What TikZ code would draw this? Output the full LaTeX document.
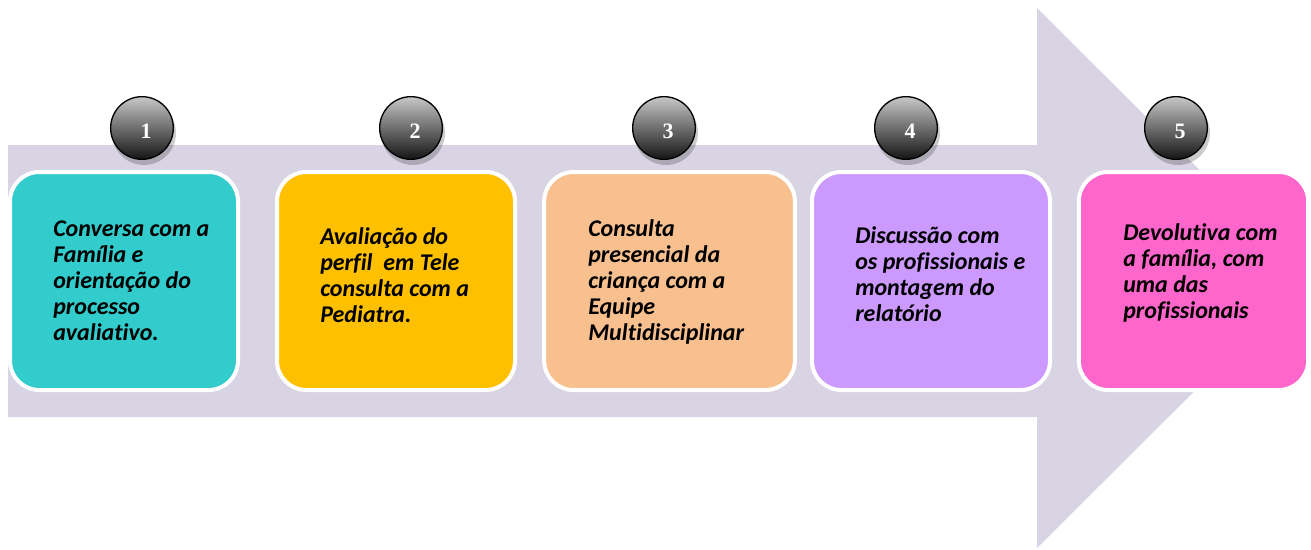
\documentclass[tikz,border=0pt]{standalone}
\usepackage{fontspec}
\setmainfont[Ligatures=CommonOff]{Carlito}
\newfontfamily\numfont{Liberation Serif}
\definecolor{arrowc}{HTML}{D8D4E3}
\definecolor{c1}{HTML}{33CCCC}
\definecolor{c2}{HTML}{FFC000}
\definecolor{c3}{HTML}{F8C08F}
\definecolor{c4}{HTML}{CC99FF}
\definecolor{c5}{HTML}{FF66CC}
\begin{document}
\begin{tikzpicture}[x=0.75pt,y=-0.75pt,
  stepbox/.style={rectangle, rounded corners=22pt, draw=white, line width=3pt,
    minimum height=163.5pt, inner sep=0pt},
  steptext/.style={anchor=west, align=left, inner sep=0pt,
    font=\bfseries\itshape\fontsize{18}{19.5}\selectfont},
  numball/.style={circle, draw=black, line width=1pt, minimum size=47pt, inner sep=0pt,
    top color=black!22, bottom color=black!92},
  numlabel/.style={text=white, font=\numfont\bfseries\fontsize{16.5}{18}\selectfont, inner sep=0pt},
  ballshadow/.style={circle, fill=black, opacity=0.2, minimum size=48pt, inner sep=0pt}]
\useasboundingbox (0,0) rectangle (1311,550);
% big arrow
\fill[arrowc] (8,145) -- (1037,145) -- (1037,8) -- (1308,278) -- (1037,548) -- (1037,417) -- (8,417) -- cycle;
% boxes
\node[stepbox, fill=c1, minimum width=171pt] (b1) at (124,281) {};
\node[stepbox, fill=c2, minimum width=178.5pt] (b2) at (396,281) {};
\node[stepbox, fill=c3, minimum width=188pt] (b3) at (669.5,281) {};
\node[stepbox, fill=c4, minimum width=178.5pt] (b4) at (931,281) {};
\node[stepbox, fill=c5, minimum width=172pt] (b5) at (1193.5,281) {};
% texts
\node[steptext] (t1) at (53,281) {Conversa com a\\Família e\\orientação do\\processo\\avaliativo.};
\node[steptext] (t2) at (320,275) {Avaliação do\\perfil\ \ em Tele\\consulta com a\\Pediatra.};
\node[steptext] (t3) at (588,282) {Consulta\\presencial da\\criança com a\\Equipe\\Multidisciplinar};
\node[steptext] (t4) at (855,274) {Discussão com\\os profissionais e\\montagem do\\relatório};
\node[steptext] (t5) at (1123,273) {Devolutiva com\\a família, com\\uma das\\profissionais};
% number balls
\foreach \i/\x in {1/142,2/411,3/664,4/906,5/1176}{
  \node[ballshadow] (s\i) at (\x+2,133) {};
  \node[numball] (n\i) at (\x,128) {};
  \node[numlabel] (l\i) at (\x+4,131) {\i};
}
\end{tikzpicture}
\end{document}
